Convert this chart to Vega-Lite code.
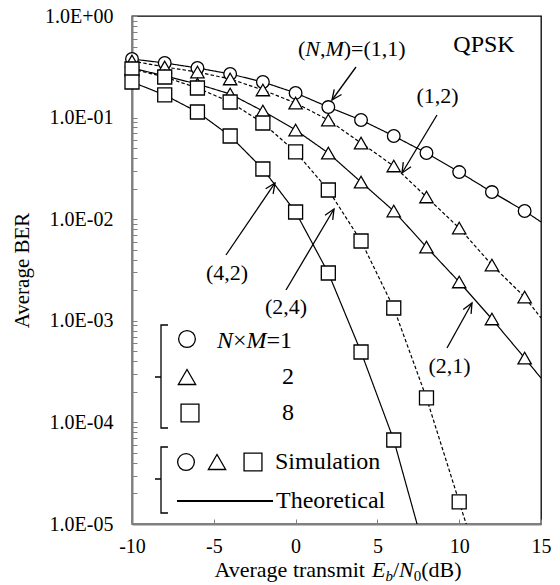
{
  "$schema": "https://vega.github.io/schema/vega-lite/v6.json",
  "width": 409,
  "height": 508,
  "autosize": "none",
  "padding": {"left": 132, "top": 16, "right": 19, "bottom": 61},
  "background": "white",
  "config": {
    "view": {"stroke": "black", "strokeWidth": 1.3},
    "font": "Liberation Serif",
    "text": {"font": "Liberation Serif", "color": "black"}
  },
  "datasets": {
    "curves": [
      {"s": "1,1", "nm": 1, "x": -10, "y": 0.377, "m": true},
      {"s": "1,1", "nm": 1, "x": -8, "y": 0.345, "m": true},
      {"s": "1,1", "nm": 1, "x": -6, "y": 0.308, "m": true},
      {"s": "1,1", "nm": 1, "x": -4, "y": 0.269, "m": true},
      {"s": "1,1", "nm": 1, "x": -2, "y": 0.224, "m": true},
      {"s": "1,1", "nm": 1, "x": 0, "y": 0.175, "m": true},
      {"s": "1,1", "nm": 1, "x": 2, "y": 0.127, "m": true},
      {"s": "1,1", "nm": 1, "x": 4, "y": 0.0947, "m": true},
      {"s": "1,1", "nm": 1, "x": 6, "y": 0.0659, "m": true},
      {"s": "1,1", "nm": 1, "x": 8, "y": 0.0448, "m": true},
      {"s": "1,1", "nm": 1, "x": 10, "y": 0.0291, "m": true},
      {"s": "1,1", "nm": 1, "x": 12, "y": 0.0185, "m": true},
      {"s": "1,1", "nm": 1, "x": 14, "y": 0.01205, "m": true},
      {"s": "1,1", "nm": 1, "x": 15, "y": 0.0094, "m": false},
      {"s": "1,2", "nm": 2, "x": -10, "y": 0.361, "m": true},
      {"s": "1,2", "nm": 2, "x": -8, "y": 0.315, "m": true},
      {"s": "1,2", "nm": 2, "x": -6, "y": 0.281, "m": true},
      {"s": "1,2", "nm": 2, "x": -4, "y": 0.24, "m": true},
      {"s": "1,2", "nm": 2, "x": -2, "y": 0.187, "m": true},
      {"s": "1,2", "nm": 2, "x": 0, "y": 0.139, "m": true},
      {"s": "1,2", "nm": 2, "x": 2, "y": 0.0947, "m": true},
      {"s": "1,2", "nm": 2, "x": 4, "y": 0.0562, "m": true},
      {"s": "1,2", "nm": 2, "x": 6, "y": 0.0334, "m": true},
      {"s": "1,2", "nm": 2, "x": 8, "y": 0.01654, "m": true},
      {"s": "1,2", "nm": 2, "x": 10, "y": 0.00819, "m": true},
      {"s": "1,2", "nm": 2, "x": 12, "y": 0.00354, "m": true},
      {"s": "1,2", "nm": 2, "x": 14, "y": 0.001715, "m": true},
      {"s": "1,2", "nm": 2, "x": 15, "y": 0.00107, "m": false},
      {"s": "2,1", "nm": 2, "x": -10, "y": 0.308, "m": true},
      {"s": "2,1", "nm": 2, "x": -8, "y": 0.257, "m": true},
      {"s": "2,1", "nm": 2, "x": -6, "y": 0.214, "m": true},
      {"s": "2,1", "nm": 2, "x": -4, "y": 0.1707, "m": true},
      {"s": "2,1", "nm": 2, "x": -2, "y": 0.1161, "m": true},
      {"s": "2,1", "nm": 2, "x": 0, "y": 0.0755, "m": true},
      {"s": "2,1", "nm": 2, "x": 2, "y": 0.0448, "m": true},
      {"s": "2,1", "nm": 2, "x": 4, "y": 0.0232, "m": true},
      {"s": "2,1", "nm": 2, "x": 6, "y": 0.01204, "m": true},
      {"s": "2,1", "nm": 2, "x": 8, "y": 0.00532, "m": true},
      {"s": "2,1", "nm": 2, "x": 10, "y": 0.00241, "m": true},
      {"s": "2,1", "nm": 2, "x": 12, "y": 0.001042, "m": true},
      {"s": "2,1", "nm": 2, "x": 14, "y": 0.00043, "m": true},
      {"s": "2,1", "nm": 2, "x": 15, "y": 0.000273, "m": false},
      {"s": "2,4", "nm": 8, "x": -10, "y": 0.301, "m": true},
      {"s": "2,4", "nm": 8, "x": -8, "y": 0.251, "m": true},
      {"s": "2,4", "nm": 8, "x": -6, "y": 0.1956, "m": true},
      {"s": "2,4", "nm": 8, "x": -4, "y": 0.1424, "m": true},
      {"s": "2,4", "nm": 8, "x": -2, "y": 0.0885, "m": true},
      {"s": "2,4", "nm": 8, "x": 0, "y": 0.0459, "m": true},
      {"s": "2,4", "nm": 8, "x": 2, "y": 0.01938, "m": true},
      {"s": "2,4", "nm": 8, "x": 4, "y": 0.0061, "m": true},
      {"s": "2,4", "nm": 8, "x": 6, "y": 0.001337, "m": true},
      {"s": "2,4", "nm": 8, "x": 8, "y": 0.000174, "m": true},
      {"s": "2,4", "nm": 8, "x": 10, "y": 0.0000165, "m": true},
      {"s": "2,4", "nm": 8, "x": 11, "y": 0.00000507, "m": false},
      {"s": "4,2", "nm": 8, "x": -10, "y": 0.224, "m": true},
      {"s": "4,2", "nm": 8, "x": -8, "y": 0.167, "m": true},
      {"s": "4,2", "nm": 8, "x": -6, "y": 0.1135, "m": true},
      {"s": "4,2", "nm": 8, "x": -4, "y": 0.0659, "m": true},
      {"s": "4,2", "nm": 8, "x": -2, "y": 0.0312, "m": true},
      {"s": "4,2", "nm": 8, "x": 0, "y": 0.01177, "m": true},
      {"s": "4,2", "nm": 8, "x": 2, "y": 0.002955, "m": true},
      {"s": "4,2", "nm": 8, "x": 4, "y": 0.000493, "m": true},
      {"s": "4,2", "nm": 8, "x": 6, "y": 0.0000671, "m": true},
      {"s": "4,2", "nm": 8, "x": 8, "y": 0.00000463, "m": false}
    ],
    "guides": [
      {"g": "b1", "i": 0, "x": -7.8, "y": 0.000909},
      {"g": "b1", "i": 1, "x": -8.227, "y": 0.000909},
      {"g": "b1", "i": 2, "x": -8.227, "y": 0.0002798},
      {"g": "b1", "i": 3, "x": -8.594, "y": 0.0002798},
      {"g": "b1", "i": 4, "x": -8.227, "y": 0.0002798},
      {"g": "b1", "i": 5, "x": -8.227, "y": 0.0000881},
      {"g": "b1", "i": 6, "x": -7.8, "y": 0.0000881},
      {"g": "b2", "i": 0, "x": -7.8, "y": 0.00005725},
      {"g": "b2", "i": 1, "x": -8.227, "y": 0.00005725},
      {"g": "b2", "i": 2, "x": -8.227, "y": 0.00002773},
      {"g": "b2", "i": 3, "x": -8.594, "y": 0.00002773},
      {"g": "b2", "i": 4, "x": -8.227, "y": 0.00002773},
      {"g": "b2", "i": 5, "x": -8.227, "y": 0.00001283},
      {"g": "b2", "i": 6, "x": -7.8, "y": 0.00001283},
      {"g": "a11", "i": 0, "x": 3.692, "y": 0.3148},
      {"g": "a11", "i": 1, "x": 2.225, "y": 0.149},
      {"g": "a12", "i": 0, "x": 8.643, "y": 0.1061},
      {"g": "a12", "i": 1, "x": 6.504, "y": 0.02849},
      {"g": "a42", "i": 0, "x": -4.254, "y": 0.004442},
      {"g": "a42", "i": 1, "x": -1.259, "y": 0.02272},
      {"g": "a24", "i": 0, "x": -0.587, "y": 0.00201},
      {"g": "a24", "i": 1, "x": 2.347, "y": 0.0126},
      {"g": "a21", "i": 0, "x": 9.254, "y": 0.00054},
      {"g": "a21", "i": 1, "x": 10.782, "y": 0.001497}
    ]
  },
  "resolve": {"scale": {"size": "independent"}},
  "encoding": {
    "x": {"field": "x", "type": "quantitative",
      "scale": {"domain": [-10, 15], "nice": false, "zero": false},
      "axis": {"values": [-10, -5, 0, 5, 10, 15], "title": null, "grid": false,
        "labelExpr": "'' + datum.value",
        "labelFont": "Liberation Serif", "labelFontSize": 20, "labelColor": "black",
        "domainColor": "#808080", "domainWidth": 2, "tickColor": "#808080", "tickWidth": 1,
        "tickSize": -5, "labelPadding": 17, "labelFlush": false, "labelOverlap": false}},
    "y": {"field": "y", "type": "quantitative",
      "scale": {"type": "log", "domain": [0.00001, 1], "nice": false},
      "axis": {"values": [0.00001,0.00002,0.00003,0.00004,0.00005,0.00006,0.00007,0.00008,0.00009,
                          0.0001,0.0002,0.0003,0.0004,0.0005,0.0006,0.0007,0.0008,0.0009,
                          0.001,0.002,0.003,0.004,0.005,0.006,0.007,0.008,0.009,
                          0.01,0.02,0.03,0.04,0.05,0.06,0.07,0.08,0.09,
                          0.1,0.2,0.3,0.4,0.5,0.6,0.7,0.8,0.9,1],
        "labelExpr": "abs(log(datum.value)/LN10 - round(log(datum.value)/LN10)) < 0.001 ? '1.0E' + (round(log(datum.value)/LN10) < 0 ? '-' : '+') + '0' + abs(round(log(datum.value)/LN10)) : ''",
        "title": "Average BER", "titleFont": "Liberation Serif", "titleFontSize": 21,
        "titleFontWeight": "normal", "titleColor": "black", "titlePadding": 12,
        "grid": false, "labelFont": "Liberation Serif", "labelFontSize": 20, "labelColor": "black",
        "domainColor": "#808080", "domainWidth": 2, "tickColor": "#808080", "tickWidth": 1,
        "tickSize": -5, "labelPadding": 24, "labelOverlap": false}}
  },
  "layer": [
    {
      "data": {"name": "curves"},
      "mark": {"type": "line", "color": "black", "clip": true, "strokeWidth": 1.2},
      "encoding": {
        "detail": {"field": "s"},
        "order": {"field": "x", "type": "quantitative"},
        "strokeDash": {"field": "s", "type": "nominal", "legend": null,
          "scale": {"domain": ["1,1", "1,2", "2,1", "2,4", "4,2"],
                    "range": [[1, 0], [3.5, 2.2], [1, 0], [3.5, 2.2], [1, 0]]}}
      }
    },
    {
      "data": {"name": "curves"},
      "transform": [{"filter": "datum.m"}],
      "mark": {"type": "point", "filled": true, "fill": "white", "stroke": "black", "strokeWidth": 1.3, "opacity": 1},
      "encoding": {
        "shape": {"field": "nm", "type": "nominal", "legend": null,
          "scale": {"domain": [1, 2, 8], "range": ["circle", "triangle-up", "square"]}},
        "size": {"field": "nm", "type": "nominal", "legend": null,
          "scale": {"domain": [1, 2, 8], "range": [160, 196, 144]}}
      }
    },
    {
      "data": {"values": [
        {"nm": 1, "x": -6.638, "y": 0.000662},
        {"nm": 2, "x": -6.638, "y": 0.0002798},
        {"nm": 8, "x": -6.455, "y": 0.0001238},
        {"nm": 1, "x": -6.699, "y": 0.00004075},
        {"nm": 2, "x": -4.804, "y": 0.00004075},
        {"nm": 8, "x": -2.604, "y": 0.00004075}
      ]},
      "mark": {"type": "point", "filled": true, "fill": "white", "stroke": "black", "strokeWidth": 1.3, "opacity": 1},
      "encoding": {
        "shape": {"field": "nm", "type": "nominal", "legend": null,
          "scale": {"domain": [1, 2, 8], "range": ["circle", "triangle-up", "square"]}},
        "size": {"field": "nm", "type": "nominal", "legend": null,
          "scale": {"domain": [1, 2, 8], "range": [280, 320, 225]}}
      }
    },
    {
      "data": {"name": "guides"},
      "mark": {"type": "line", "color": "black", "strokeWidth": 1.3, "clip": false},
      "encoding": {
        "detail": {"field": "g"},
        "order": {"field": "i", "type": "quantitative"}
      }
    },
    {
      "data": {"values": [
        {"x": -7.249, "y": 0.00001684},
        {"x": -1.381, "y": 0.00001684}
      ]},
      "mark": {"type": "line", "color": "black", "strokeWidth": 2},
      "encoding": {"order": {"field": "x", "type": "quantitative"}}
    },
    {
      "data": {"values": [
        {"x": 2.225, "y": 0.149, "ang": 216},
        {"x": 6.504, "y": 0.02849, "ang": 211},
        {"x": -1.259, "y": 0.02272, "ang": 34},
        {"x": 2.347, "y": 0.0126, "ang": 31},
        {"x": 10.782, "y": 0.001497, "ang": 29}
      ]},
      "mark": {"type": "point", "shape": "M-0.45,1L0,0L0.45,1", "filled": false, "stroke": "black", "strokeWidth": 1.3, "size": 400, "opacity": 1},
      "encoding": {"angle": {"field": "ang", "type": "quantitative", "scale": null}}
    },
    {
      "data": {"values": [
        {"t": "(1,2)", "x": 8.674, "y": 0.1632},
        {"t": "(4,2)", "x": -4.193, "y": 0.002955},
        {"t": "(2,4)", "x": -0.587, "y": 0.001367},
        {"t": "(2,1)", "x": 9.407, "y": 0.000359}
      ]},
      "mark": {"type": "text", "fontSize": 22, "align": "center", "baseline": "middle"},
      "encoding": {"text": {"field": "t"}}
    },
    {
      "data": {"values": [{"t": "QPSK", "x": 11.516, "y": 0.5183}]},
      "mark": {"type": "text", "fontSize": 24, "align": "center", "baseline": "middle"},
      "encoding": {"text": {"field": "t"}}
    },
    {
      "data": {"values": [
        {"t": "(", "x": 0.147, "y": 0.4733},
        {"t": ",", "x": 1.491, "y": 0.4733},
        {"t": ")=(1,1)", "x": 2.946, "y": 0.4733}
      ]},
      "mark": {"type": "text", "fontSize": 22, "align": "left", "baseline": "middle"},
      "encoding": {"text": {"field": "t"}}
    },
    {
      "data": {"values": [
        {"t": "N", "x": 0.593, "y": 0.4733},
        {"t": "M", "x": 1.828, "y": 0.4733}
      ]},
      "mark": {"type": "text", "fontSize": 22, "fontStyle": "italic", "align": "left", "baseline": "middle"},
      "encoding": {"text": {"field": "t"}}
    },
    {
      "data": {"values": [
        {"t": "×", "x": -3.826, "y": 0.000633},
        {"t": "=1", "x": -1.778, "y": 0.000633},
        {"t": "2", "x": -0.831, "y": 0.0002798},
        {"t": "8", "x": -0.831, "y": 0.0001238},
        {"t": "Simulation", "x": -1.259, "y": 0.00004075},
        {"t": "Theoretical", "x": -1.198, "y": 0.00001684}
      ]},
      "mark": {"type": "text", "fontSize": 24, "align": "left", "baseline": "middle"},
      "encoding": {"text": {"field": "t"}}
    },
    {
      "data": {"values": [
        {"t": "N", "x": -4.804, "y": 0.000633},
        {"t": "M", "x": -3.001, "y": 0.000633}
      ]},
      "mark": {"type": "text", "fontSize": 24, "fontStyle": "italic", "align": "left", "baseline": "middle"},
      "encoding": {"text": {"field": "t"}}
    },
    {
      "data": {"values": [
        {"t": "Average transmit", "x": -4.957, "y": 0.000003008},
        {"t": "/", "x": 5.954, "y": 0.000003008},
        {"t": "(dB)", "x": 7.683, "y": 0.000003008}
      ]},
      "mark": {"type": "text", "fontSize": 22, "align": "left", "baseline": "alphabetic"},
      "encoding": {"text": {"field": "t"}}
    },
    {
      "data": {"values": [
        {"t": "E", "x": 4.676, "y": 0.000003008},
        {"t": "N", "x": 6.327, "y": 0.000003008}
      ]},
      "mark": {"type": "text", "fontSize": 22, "fontStyle": "italic", "align": "left", "baseline": "alphabetic"},
      "encoding": {"text": {"field": "t"}}
    },
    {
      "data": {"values": [{"t": "b", "x": 5.495, "y": 0.000002748}]},
      "mark": {"type": "text", "fontSize": 15, "fontStyle": "italic", "align": "left", "baseline": "alphabetic"},
      "encoding": {"text": {"field": "t"}}
    },
    {
      "data": {"values": [{"t": "0", "x": 7.225, "y": 0.000002748}]},
      "mark": {"type": "text", "fontSize": 15, "align": "left", "baseline": "alphabetic"},
      "encoding": {"text": {"field": "t"}}
    }
  ]
}
